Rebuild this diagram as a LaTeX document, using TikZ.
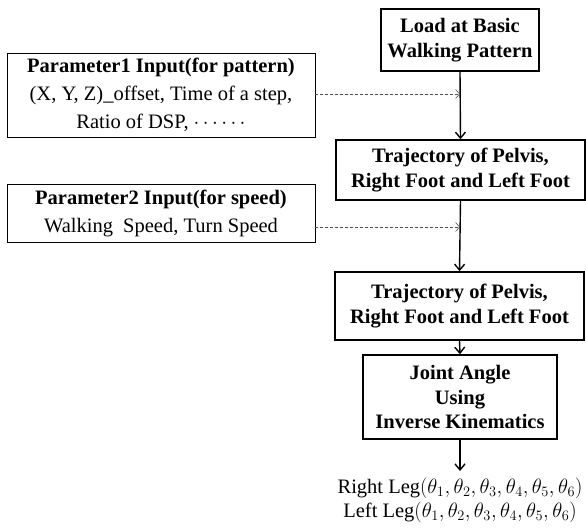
\documentclass[tikz,border=0pt]{standalone}
\usepackage{fontspec}
\setmainfont{Liberation Serif}
\usetikzlibrary{arrows.meta}
\begin{document}
\begin{tikzpicture}[x=1pt,y=-1pt,
  flowbox/.style={draw, line width=1.6pt, align=center, font=\fontsize{20.5}{24.5}\selectfont\bfseries, inner sep=0pt},
  parbox/.style={draw, line width=0.7pt, align=center, font=\fontsize{20.5}{28}\selectfont, inner sep=0pt},
  mainarrow/.style={line width=1.4pt, -{Straight Barb[length=6pt,width=10pt,line width=1.4pt]}},
  dasharrow/.style={line width=0.6pt, draw=black!70, densely dashed, -{Straight Barb[length=4pt,width=9pt,line width=0.6pt,sep=0pt]}}]
\useasboundingbox (0,0) rectangle (586,530);
% main flow boxes
\node[flowbox, minimum width=158pt, minimum height=62pt] (load) at (460,40) {Load at Basic\\Walking Pattern};
\node[flowbox, minimum width=249pt, minimum height=60pt] (traj1) at (460.5,170) {Trajectory of Pelvis,\\Right Foot and Left Foot};
\node[flowbox, minimum width=249pt, minimum height=68pt] (traj2) at (459.5,306) {Trajectory of Pelvis,\\Right Foot and Left Foot};
\node[flowbox, minimum width=194pt, minimum height=84pt] (joint) at (460,397) {Joint Angle\\Using\\Inverse Kinematics};
\node[align=center, font=\fontsize{20.5}{24}\selectfont, inner sep=0pt] (out) at (460,500)
  {Right Leg$(\theta_1,\theta_2,\theta_3,\theta_4,\theta_5,\theta_6)$\\Left Leg$(\theta_1,\theta_2,\theta_3,\theta_4,\theta_5,\theta_6)$};
% parameter boxes
\node[parbox, minimum width=308pt, minimum height=84pt] (p1) at (161,95)
  {\textbf{Parameter1 Input(for pattern)}\\(X, Y, Z)\_offset, Time of a step,\\Ratio of DSP, $\cdots\cdots$};
\node[parbox, minimum width=308pt, minimum height=58pt] (p2) at (161,213)
  {\textbf{Parameter2 Input(for speed)}\\Walking\ \ Speed, Turn Speed};
% junction coordinates
\coordinate (j1) at (460,94);
\coordinate (j2) at (460,227);
\coordinate (outtop) at (460,471);
% arrows
\draw[mainarrow] (load.south) -- (traj1.north);
\draw[mainarrow] (traj1.south) -- (traj2.north);
\draw[mainarrow] (traj2.south) -- (joint.north);
\draw[mainarrow] (joint.south) -- (outtop);
\draw[dasharrow] (p1.east |- j1) -- (j1);
\draw[dasharrow] (p2.east |- j2) -- (j2);
\end{tikzpicture}
\end{document}
